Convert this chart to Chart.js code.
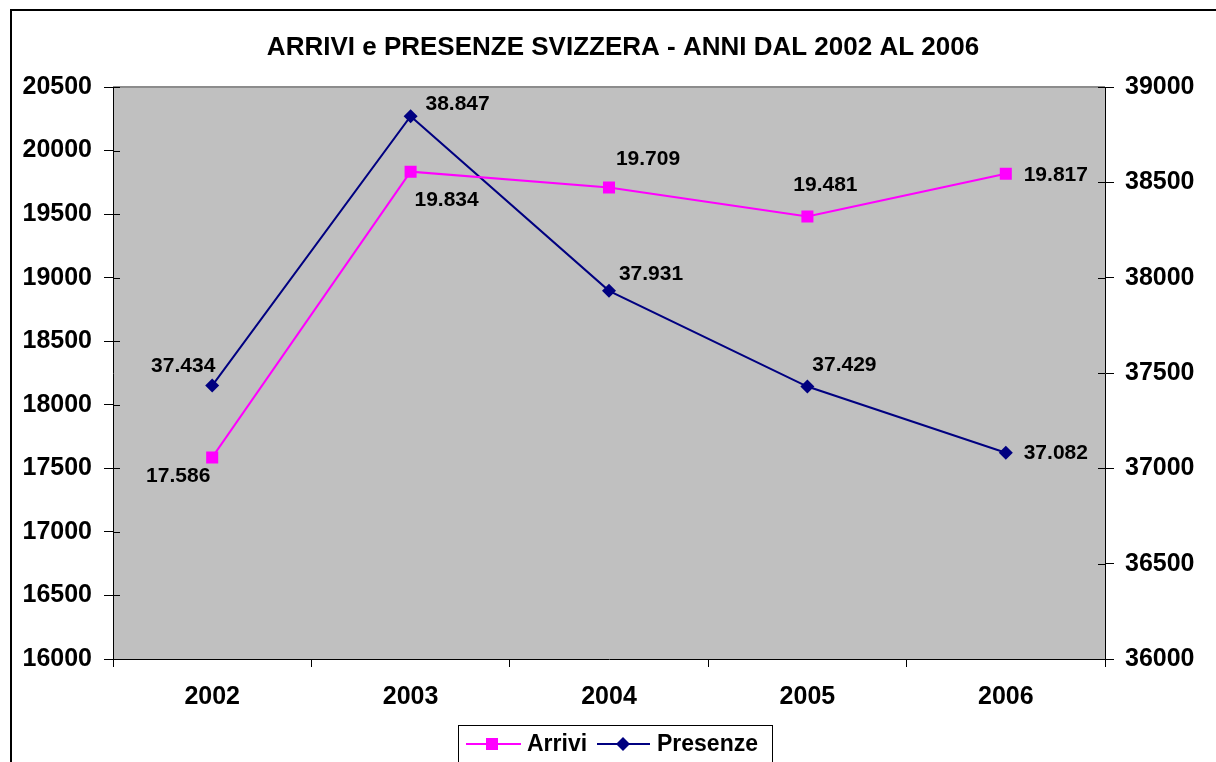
<!DOCTYPE html>
<html>
<head>
<meta charset="utf-8">
<style>
  html, body { margin: 0; padding: 0; background: #fff; }
  #wrap { position: relative; width: 1216px; height: 762px; overflow: hidden; }
</style>
<script src="https://cdn.jsdelivr.net/npm/chart.js@4.4.1/dist/chart.umd.min.js"></script>
</head>
<body>
<div id="wrap"><canvas id="c" width="1216" height="762"></canvas></div>
<script>
const chartTitle = 'ARRIVI e PRESENZE SVIZZERA - ANNI DAL 2002 AL 2006';
const categories = ['2002', '2003', '2004', '2005', '2006'];
const arrivi = [17586, 19834, 19709, 19481, 19817];
const presenze = [37434, 38847, 37931, 37429, 37082];
const leftTicks = [16000, 16500, 17000, 17500, 18000, 18500, 19000, 19500, 20000, 20500];
const rightTicks = [36000, 36500, 37000, 37500, 38000, 38500, 39000];

// label placement (offset of label centre from its point, px)
const arriviLabelOffsets = [[-34, 18], [36, 28], [39, -29], [18, -32], [50, 0]];
const presenzeLabelOffsets = [[-29, -20], [47, -13], [42, -18], [37, -22], [50, 0]];

const FONT = "'Liberation Sans', Arial, sans-serif";

function fmtIt(v) {
  return String(Math.round(v)).replace(/\B(?=(\d{3})+(?!\d))/g, '.');
}

const decorPlugin = {
  id: 'decor',
  beforeDraw(chart) {
    const ctx = chart.ctx;
    const a = chart.chartArea;
    ctx.save();
    ctx.fillStyle = '#ffffff';
    ctx.fillRect(0, 0, chart.width, chart.height);
    ctx.fillStyle = '#C0C0C0';
    ctx.fillRect(a.left, a.top, a.right - a.left, a.bottom - a.top);
    ctx.strokeStyle = '#8c8c8c';
    ctx.lineWidth = 2;
    ctx.beginPath();
    ctx.moveTo(a.left, a.top);
    ctx.lineTo(a.right, a.top);
    ctx.stroke();
    ctx.restore();
  },
  afterDraw(chart) {
    const ctx = chart.ctx;
    const a = chart.chartArea;
    ctx.save();
    ctx.strokeStyle = '#000';
    ctx.lineWidth = 1;
    const yl = chart.scales.y;
    const yr = chart.scales.y1;
    ctx.beginPath();
    yl.ticks.forEach(t => {
      const py = Math.round(yl.getPixelForValue(t.value)) + 0.5;
      ctx.moveTo(a.left, py); ctx.lineTo(a.left + 7, py);
    });
    yr.ticks.forEach(t => {
      const py = Math.round(yr.getPixelForValue(t.value)) + 0.5;
      ctx.moveTo(a.right, py); ctx.lineTo(a.right - 7, py);
    });
    ctx.stroke();

    // data labels
    ctx.fillStyle = '#000';
    ctx.font = 'bold 21px ' + FONT;
    ctx.textAlign = 'center';
    ctx.textBaseline = 'middle';
    const offsetsByDs = [arriviLabelOffsets, presenzeLabelOffsets];
    chart.data.datasets.forEach((ds, di) => {
      const meta = chart.getDatasetMeta(di);
      meta.data.forEach((pt, i) => {
        const off = offsetsByDs[di][i];
        ctx.fillText(fmtIt(ds.data[i]), pt.x + off[0], pt.y + off[1] + 1);
      });
    });

    // title
    ctx.font = 'bold 26px ' + FONT;
    ctx.textAlign = 'center';
    ctx.fillText(chartTitle, 623, 48);

    // legend
    const lx = 458, ly = 725, lw = 314, lh = 60;
    ctx.fillStyle = '#fff';
    ctx.fillRect(lx, ly, lw, lh);
    ctx.strokeStyle = '#000';
    ctx.lineWidth = 1;
    ctx.strokeRect(lx + 0.5, ly + 0.5, lw, lh);
    const items = [
      { x0: 466, x1: 521, mx: 492, tx: 527 },
      { x0: 597, x1: 650, mx: 623, tx: 657 }
    ];
    const my = 744;
    ctx.font = 'bold 23px ' + FONT;
    ctx.textAlign = 'left';
    ctx.textBaseline = 'middle';
    chart.data.datasets.forEach((ds, di) => {
      const it = items[di];
      ctx.strokeStyle = ds.borderColor;
      ctx.lineWidth = 2;
      ctx.beginPath();
      ctx.moveTo(it.x0, my); ctx.lineTo(it.x1, my);
      ctx.stroke();
      ctx.fillStyle = ds.pointBackgroundColor;
      ctx.beginPath();
      if (ds.pointStyle === 'rect') {
        ctx.rect(it.mx - 6, my - 6, 12, 12);
      } else {
        ctx.moveTo(it.mx - 7, my); ctx.lineTo(it.mx, my - 7);
        ctx.lineTo(it.mx + 7, my); ctx.lineTo(it.mx, my + 7);
        ctx.closePath();
      }
      ctx.fill();
      ctx.fillStyle = '#000';
      ctx.fillText(ds.label, it.tx, my + 1);
    });

    // outer chart border
    ctx.strokeStyle = '#000';
    ctx.lineWidth = 2;
    ctx.strokeRect(11, 10, 1240, 800);
    ctx.restore();
  }
};

new Chart(document.getElementById('c'), {
  type: 'line',
  data: {
    labels: categories,
    datasets: [
      {
        label: 'Arrivi',
        data: arrivi,
        yAxisID: 'y',
        borderColor: '#FF00FF',
        backgroundColor: '#FF00FF',
        pointBackgroundColor: '#FF00FF',
        pointBorderColor: '#FF00FF',
        pointStyle: 'rect',
        pointRadius: 8.5,
        pointBorderWidth: 0,
        borderWidth: 2,
        tension: 0
      },
      {
        label: 'Presenze',
        data: presenze,
        yAxisID: 'y1',
        borderColor: '#000080',
        backgroundColor: '#000080',
        pointBackgroundColor: '#000080',
        pointBorderColor: '#000080',
        pointStyle: 'rectRot',
        pointRadius: 7,
        pointBorderWidth: 0,
        borderWidth: 2,
        tension: 0
      }
    ]
  },
  options: {
    responsive: false,
    animation: false,
    devicePixelRatio: 1,
    layout: { padding: { top: 87, left: 0, right: 0, bottom: 0 } },
    plugins: {
      legend: { display: false },
      title: { display: false },
      tooltip: { enabled: false }
    },
    scales: {
      x: {
        type: 'category',
        offset: true,
        grid: { display: true, offset: true, drawOnChartArea: false, drawTicks: true, tickLength: 8, color: '#000', lineWidth: 1 },
        border: { display: true, color: '#000', width: 1 },
        ticks: { color: '#000', font: { family: FONT, size: 25, weight: 'bold' }, padding: 15, maxRotation: 0 },
        afterFit(s) { s.height = 103; }
      },
      y: {
        type: 'linear',
        position: 'left',
        min: 16000,
        max: 20500,
        afterBuildTicks(s) { s.ticks = leftTicks.map(v => ({ value: v })); },
        grid: { display: true, drawOnChartArea: false, drawTicks: true, tickLength: 9, color: '#000', lineWidth: 1 },
        border: { display: true, color: '#000', width: 1 },
        ticks: { color: '#000', font: { family: FONT, size: 25, weight: 'bold' }, padding: 12, callback: v => String(v) },
        afterFit(s) { s.width = 113; }
      },
      y1: {
        type: 'linear',
        position: 'right',
        min: 36000,
        max: 39000,
        afterBuildTicks(s) { s.ticks = rightTicks.map(v => ({ value: v })); },
        grid: { display: true, drawOnChartArea: false, drawTicks: true, tickLength: 9, color: '#000', lineWidth: 1 },
        border: { display: true, color: '#000', width: 1 },
        ticks: { color: '#000', font: { family: FONT, size: 25, weight: 'bold' }, padding: 11, callback: v => String(v) },
        afterFit(s) { s.width = 111; }
      }
    }
  },
  plugins: [decorPlugin]
});
</script>
</body>
</html>
